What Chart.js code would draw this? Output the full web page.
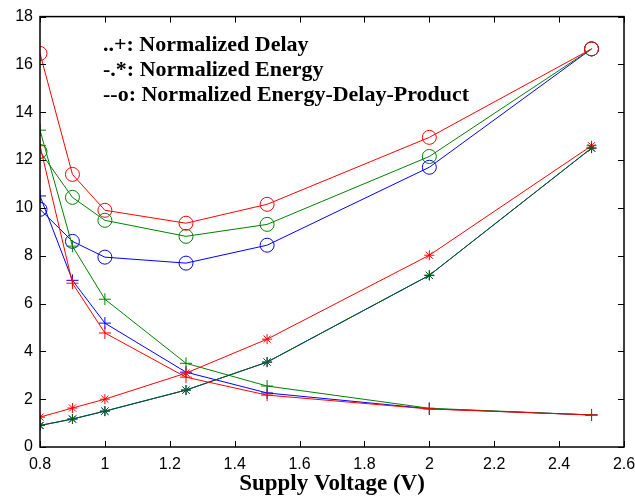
<!DOCTYPE html>
<html>
<head>
<meta charset="utf-8">
<script src="https://cdn.jsdelivr.net/npm/chart.js@4.4.1/dist/chart.umd.min.js"></script>
<style>
  html, body { margin: 0; padding: 0; background: #fff; }
  #wrap { width: 635px; height: 498px; }
</style>
</head>
<body>
<div id="wrap"><canvas id="chart"></canvas></div>
<script>
// Supply voltages (V)
const voltages = [0.8, 0.9, 1.0, 1.25, 1.5, 2.0, 2.5];

// Normalized delay (+)
const delayRed   = [12.6, 6.85, 4.77, 2.92, 2.17, 1.59, 1.34];
const delayGreen = [13.25, 8.4, 6.18, 3.5, 2.55, 1.62, 1.34];
const delayBlue  = [10.5, 6.97, 5.18, 3.13, 2.26, 1.6, 1.34];

// Normalized energy (*)
const energyRed   = [1.25, 1.63, 2.0, 3.09, 4.51, 8.02, 12.6];
const energyGreen = [0.9, 1.17, 1.5, 2.38, 3.55, 7.18, 12.5];
const energyBlue  = [0.9, 1.17, 1.5, 2.38, 3.55, 7.18, 12.5];

// Normalized energy-delay-product (o)
const edpRed   = [16.46, 11.4, 9.9, 9.36, 10.15, 12.95, 16.65];
const edpGreen = [12.36, 10.44, 9.48, 8.81, 9.31, 12.15, 16.65];
const edpBlue  = [9.94, 8.6, 7.94, 7.69, 8.44, 11.7, 16.65];

const xTicks = [0.8, 1.0, 1.2, 1.4, 1.6, 1.8, 2.0, 2.2, 2.4, 2.6];
const yTicks = [0, 2, 4, 6, 8, 10, 12, 14, 16, 18];

const legendLines = [
    '..+: Normalized Delay',
    '-.*: Normalized Energy',
    '--o: Normalized Energy-Delay-Product'
];

const RED = '#ff0000', GREEN = '#008000', BLUE = '#0000ff';

function pts(ys) { return voltages.map((v, i) => ({ x: v, y: ys[i] })); }

function series(ys, color, style, radius) {
    return {
        data: pts(ys),
        borderColor: color,
        backgroundColor: 'rgba(0,0,0,0)',
        pointBorderColor: color,
        pointBackgroundColor: 'rgba(0,0,0,0)',
        borderWidth: 1,
        pointBorderWidth: 1,
        pointStyle: style,
        pointRadius: radius,
        tension: 0,
        fill: false
    };
}

// inward ticks on all four sides, plus box and in-plot text
const boxPlugin = {
    id: 'box',
    afterDraw(chart) {
        const { ctx, chartArea: a, scales } = chart;
        ctx.save();
        ctx.strokeStyle = '#000';
        ctx.lineWidth = 1;
        ctx.beginPath();
        const L = 6;
        xTicks.forEach(v => {
            const x = Math.round(scales.x.getPixelForValue(v)) + 0.5;
            ctx.moveTo(x, a.bottom); ctx.lineTo(x, a.bottom - L);
            ctx.moveTo(x, a.top); ctx.lineTo(x, a.top + L);
        });
        yTicks.forEach(v => {
            const y = Math.round(scales.y.getPixelForValue(v)) + 0.5;
            ctx.moveTo(a.left, y); ctx.lineTo(a.left + L, y);
            ctx.moveTo(a.right, y); ctx.lineTo(a.right - L, y);
        });
        ctx.stroke();
        ctx.lineWidth = 1.5;
        ctx.strokeRect(a.left, a.top, a.right - a.left, a.bottom - a.top);

        ctx.fillStyle = '#000';
        ctx.font = 'bold 22px "Liberation Serif", "Times New Roman", serif';
        ctx.textBaseline = 'alphabetic';
        legendLines.forEach((t, i) => ctx.fillText(t, 103, 51 + i * 25));
        ctx.restore();
    }
};

window.addEventListener('DOMContentLoaded', () => {
    // first dataset is drawn on top
    new Chart(document.getElementById('chart'), {
        type: 'line',
        data: {
            datasets: [
                series(delayRed, RED, 'cross', 6),
                series(energyGreen, '#006400', 'star', 5),
                series(energyRed, RED, 'star', 5),
                series(delayGreen, GREEN, 'cross', 6),
                series(delayBlue, BLUE, 'cross', 6),
                series(energyBlue, BLUE, 'star', 5),
                series(edpRed, RED, 'circle', 7),
                series(edpGreen, GREEN, 'circle', 7),
                series(edpBlue, BLUE, 'circle', 7)
            ]
        },
        options: {
            responsive: true,
            maintainAspectRatio: false,
            animation: false,
            layout: { padding: { left: 0, top: 8, right: 11, bottom: 0 } },
            plugins: {
                legend: { display: false },
                tooltip: { enabled: false }
            },
            scales: {
                x: {
                    type: 'linear',
                    min: 0.8, max: 2.6,
                    afterFit(s) { s.height = 51; s.paddingLeft = 0; s.paddingRight = 0; },
                    afterBuildTicks(s) { s.ticks = xTicks.map(v => ({ value: v })); },
                    grid: { display: false, drawTicks: false },
                    border: { display: false },
                    ticks: {
                        padding: 8,
                        color: '#000',
                        font: { family: '"Liberation Sans", Arial, sans-serif', size: 16 },
                        callback: v => String(Math.round(v * 10) / 10)
                    },
                    title: {
                        display: true,
                        text: 'Supply Voltage (V)',
                        color: '#000',
                        padding: { top: 0, bottom: 0 },
                        font: { family: '"Liberation Serif", "Times New Roman", serif', size: 23, weight: 'bold' }
                    }
                },
                y: {
                    min: 0, max: 18,
                    afterFit(s) { s.width = 40; },
                    afterBuildTicks(s) { s.ticks = yTicks.map(v => ({ value: v })); },
                    grid: { display: false, drawTicks: false },
                    border: { display: false },
                    ticks: {
                        padding: 7,
                        color: '#000',
                        font: { family: '"Liberation Sans", Arial, sans-serif', size: 16 }
                    }
                }
            }
        },
        plugins: [boxPlugin]
    });
});
</script>
</body>
</html>
